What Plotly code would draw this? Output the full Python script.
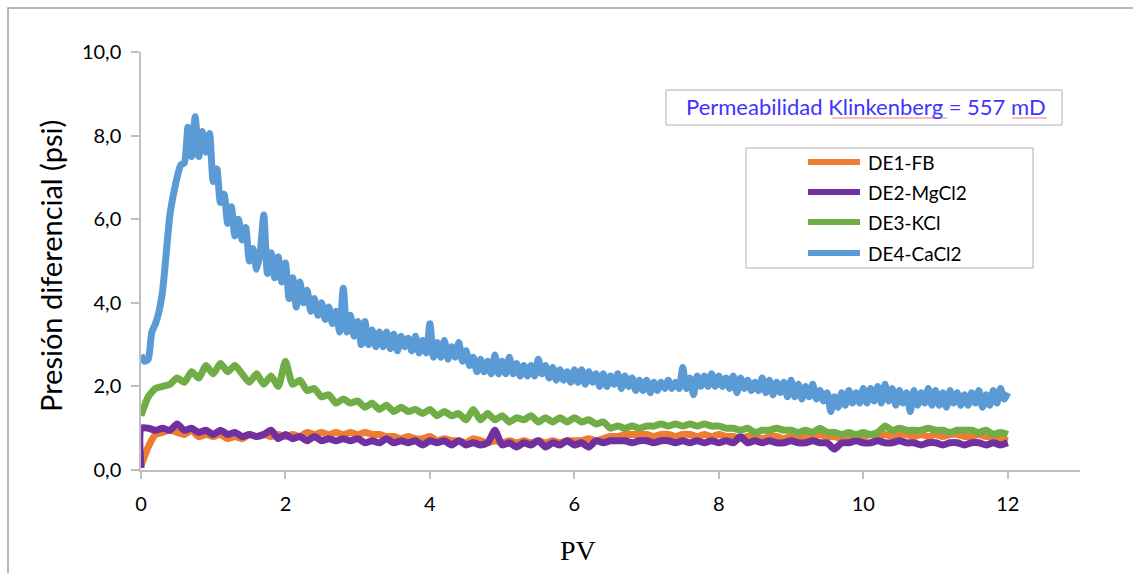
import numpy as np
import plotly.graph_objects as go

# ---------------- data ----------------
pv_fine = np.round(np.arange(0, 12.0001, 0.05), 2)   # grid for DE4
pv = np.round(np.arange(0, 12.0001, 0.1), 2)         # grid for the others

de4_cacl2 = [
    2.75, 2.6, 2.65, 3.3, 3.5, 3.8, 4.3, 5.2, 6.1, 6.6, 7.0, 7.3, 7.35, 8.2, 7.5, 8.45, 7.5, 8.1, 7.6, 8.05,
    6.9, 7.2, 6.4, 6.6, 5.9, 6.3, 5.6, 6.0, 5.5, 5.8, 5.0, 5.3, 4.8, 5.2, 6.1, 4.7, 5.2, 4.6, 5.1, 4.5,
    4.95, 4.1, 4.6, 3.9, 4.5, 4.0, 4.3, 3.8, 4.1, 3.7, 4.0, 3.6, 3.9, 3.5, 3.8, 3.3, 4.35, 3.3, 3.7, 3.2,
    3.55, 3.0, 3.55, 3.0, 3.35, 2.95, 3.3, 2.95, 3.3, 2.9, 3.25, 2.85, 3.2, 2.95, 3.15, 2.85, 3.2, 2.8, 3.1, 2.8,
    3.5, 2.7, 3.05, 2.7, 3.1, 2.65, 2.95, 2.7, 3.05, 2.6, 2.85, 2.5, 2.7, 2.35, 2.65, 2.35, 2.6, 2.3, 2.75, 2.3,
    2.6, 2.3, 2.7, 2.3, 2.55, 2.25, 2.5, 2.25, 2.5, 2.25, 2.65, 2.3, 2.5, 2.2, 2.45, 2.15, 2.4, 2.15, 2.35, 2.1,
    2.4, 2.1, 2.4, 2.05, 2.35, 2.1, 2.3, 2.0, 2.3, 2.0, 2.25, 2.05, 2.3, 1.95, 2.25, 2.0, 2.2, 1.9, 2.15, 1.9,
    2.15, 1.85, 2.1, 1.9, 2.1, 1.95, 2.15, 1.95, 2.1, 1.95, 2.45, 1.95, 2.2, 1.8, 2.25, 2.0, 2.25, 2.0, 2.3, 2.0,
    2.25, 2.0, 2.2, 1.95, 2.25, 1.85, 2.2, 1.95, 2.15, 1.9, 2.1, 1.9, 2.2, 1.85, 2.15, 1.8, 2.1, 1.85, 2.1, 1.75,
    2.15, 1.75, 2.05, 1.7, 2.0, 1.75, 2.05, 1.7, 1.9, 1.65, 1.85, 1.4, 1.75, 1.5, 1.85, 1.55, 1.9, 1.6, 1.85, 1.6,
    1.95, 1.6, 1.95, 1.65, 2.0, 1.6, 2.05, 1.65, 1.95, 1.55, 1.9, 1.6, 1.85, 1.4, 1.9, 1.55, 1.85, 1.6, 1.95, 1.55,
    1.9, 1.55, 1.85, 1.5, 1.9, 1.6, 1.85, 1.55, 1.8, 1.55, 1.85, 1.6, 1.9, 1.5, 1.8, 1.55, 1.9, 1.6, 1.95, 1.7,
    1.85,
]

de3_kcl = [
    1.3, 1.75, 1.95, 2.0, 2.05, 2.2, 2.1, 2.35, 2.2, 2.5,
    2.3, 2.55, 2.35, 2.5, 2.3, 2.1, 2.3, 2.05, 2.25, 2.0,
    2.6, 2.05, 2.15, 1.9, 1.95, 1.75, 1.8, 1.6, 1.7, 1.6,
    1.65, 1.5, 1.6, 1.45, 1.55, 1.4, 1.5, 1.4, 1.45, 1.35,
    1.45, 1.3, 1.4, 1.3, 1.35, 1.2, 1.45, 1.2, 1.35, 1.2,
    1.3, 1.15, 1.25, 1.2, 1.3, 1.15, 1.25, 1.15, 1.25, 1.15,
    1.25, 1.15, 1.2, 1.1, 1.15, 1.0, 1.05, 1.0, 1.05, 1.0,
    1.05, 1.05, 1.1, 1.05, 1.1, 1.05, 1.1, 1.05, 1.1, 1.05,
    1.05, 1.0, 1.0, 0.95, 1.0, 0.9, 0.95, 0.95, 1.0, 0.95,
    0.95, 0.9, 0.95, 0.9, 1.0, 0.9, 0.9, 0.85, 0.9, 0.85,
    0.9, 0.85, 0.9, 1.05, 0.95, 1.0, 0.95, 0.95, 0.95, 1.0,
    0.95, 0.95, 0.9, 0.95, 0.95, 0.95, 0.9, 0.95, 0.85, 0.9,
    0.85,
]

de1_fb = [
    0.1, 0.55, 0.85, 0.9, 0.95, 0.9, 0.85, 0.95, 0.8, 0.85,
    0.8, 0.85, 0.75, 0.8, 0.75, 0.85, 0.8, 0.85, 0.8, 0.85,
    0.8, 0.85, 0.8, 0.9, 0.85, 0.9, 0.85, 0.9, 0.85, 0.9,
    0.85, 0.9, 0.85, 0.85, 0.8, 0.8, 0.75, 0.8, 0.75, 0.75,
    0.8, 0.7, 0.75, 0.7, 0.7, 0.65, 0.75, 0.7, 0.65, 0.7,
    0.65, 0.7, 0.65, 0.7, 0.65, 0.7, 0.65, 0.7, 0.65, 0.7,
    0.7, 0.7, 0.75, 0.7, 0.75, 0.8, 0.8, 0.85, 0.85, 0.85,
    0.85, 0.8, 0.85, 0.85, 0.8, 0.85, 0.85, 0.8, 0.85, 0.8,
    0.85, 0.8, 0.8, 0.75, 0.8, 0.8, 0.75, 0.8, 0.8, 0.75,
    0.8, 0.75, 0.8, 0.8, 0.85, 0.8, 0.8, 0.75, 0.8, 0.85,
    0.8, 0.85, 0.8, 0.85, 0.8, 0.85, 0.85, 0.8, 0.85, 0.8,
    0.85, 0.8, 0.85, 0.85, 0.8, 0.8, 0.85, 0.8, 0.8, 0.75,
    0.7,
]

de2_start = 0.05   # value of DE2 at the very first reading (PV = 0)
de2_mgcl2 = [
    1.0, 1.0, 0.95, 1.0, 0.95, 1.1, 0.95, 1.0, 0.9, 0.95,
    0.85, 0.95, 0.85, 0.9, 0.8, 0.85, 0.8, 0.85, 0.95, 0.75,
    0.85, 0.75, 0.8, 0.7, 0.8, 0.7, 0.75, 0.7, 0.75, 0.7,
    0.75, 0.65, 0.7, 0.65, 0.75, 0.65, 0.7, 0.65, 0.7, 0.6,
    0.7, 0.65, 0.7, 0.6, 0.7, 0.6, 0.65, 0.6, 0.65, 0.95,
    0.6, 0.65, 0.55, 0.65, 0.6, 0.7, 0.55, 0.65, 0.6, 0.7,
    0.6, 0.65, 0.55, 0.7, 0.65, 0.7, 0.7, 0.7, 0.65, 0.7,
    0.7, 0.65, 0.7, 0.7, 0.65, 0.7, 0.65, 0.7, 0.65, 0.7,
    0.65, 0.7, 0.65, 0.8, 0.65, 0.7, 0.65, 0.7, 0.65, 0.65,
    0.7, 0.65, 0.65, 0.7, 0.65, 0.65, 0.5, 0.65, 0.65, 0.7,
    0.65, 0.65, 0.7, 0.65, 0.65, 0.7, 0.65, 0.65, 0.6, 0.65,
    0.65, 0.6, 0.65, 0.65, 0.6, 0.65, 0.65, 0.6, 0.65, 0.6,
    0.65,
]

series_names = ["DE1-FB", "DE2-MgCl2", "DE3-KCl", "DE4-CaCl2"]
series_colors = ["#ED7D31", "#7030A0", "#70AD47", "#5B9BD5"]
y_tick_vals = [0, 2, 4, 6, 8, 10]
y_tick_text = ["0,0", "2,0", "4,0", "6,0", "8,0", "10,0"]
x_tick_vals = [0, 2, 4, 6, 8, 10, 12]
note_text = "Permeabilidad Klinkenberg = 557 mD"

# ---------------- layout geometry (pixels) ----------------
W, H = 1133, 573
L, R, T, B = 141, 1080, 52, 470


def px(x):
    return (x - L) / (R - L)


def py(y):
    return (B - y) / (B - T)


FONT = "Lato, 'Open Sans', sans-serif"

fig = go.Figure()
xs = [pv, np.concatenate([[0.0], pv]), pv, pv_fine]
ys = [de1_fb, [de2_start] + de2_mgcl2, de3_kcl, de4_cacl2]
for name, color, xv, yv in zip(series_names, series_colors, xs, ys):
    fig.add_trace(go.Scatter(x=xv, y=yv, mode="lines", name=name,
                             line=dict(color=color, width=7, shape="spline", smoothing=0.6),
                             showlegend=False))

fig.update_layout(
    width=W, height=H,
    margin=dict(l=L, r=W - R, t=T, b=H - B),
    paper_bgcolor="white", plot_bgcolor="white",
    font=dict(family=FONT, size=20, color="black"),
    xaxis=dict(range=[0, 13], tickvals=x_tick_vals, showgrid=False, zeroline=False,
               showline=True, linecolor="#BFBFBF", linewidth=1.5,
               ticks="outside", ticklen=7, tickcolor="#BFBFBF", tickwidth=1.5,
               tickfont=dict(size=20, family=FONT), ticklabelstandoff=8),
    yaxis=dict(range=[0, 10], tickvals=y_tick_vals, ticktext=y_tick_text, showgrid=False,
               zeroline=False, showline=True, linecolor="#BFBFBF", linewidth=1.5,
               ticks="outside", ticklen=8, tickcolor="#BFBFBF", tickwidth=1.5,
               tickfont=dict(size=20, family=FONT), ticklabelstandoff=6),
)

shapes = []
# outer chart border
shapes.append(dict(type="rect", xref="paper", yref="paper",
                   x0=px(8), x1=px(W + 20), y0=py(8), y1=py(H + 20),
                   line=dict(color="#A0A0A0", width=1.5), layer="below"))
# annotation box
shapes.append(dict(type="rect", xref="paper", yref="paper",
                   x0=px(666), x1=px(1062), y0=py(90), y1=py(125),
                   line=dict(color="#B0B0B0", width=1), fillcolor="white"))
# legend box
shapes.append(dict(type="rect", xref="paper", yref="paper",
                   x0=px(746), x1=px(1033), y0=py(148), y1=py(268),
                   line=dict(color="#B0B0B0", width=1), fillcolor="white"))
# spell-check underlines
for a, b in [(832, 947), (1012, 1047)]:
    shapes.append(dict(type="line", xref="paper", yref="paper",
                       x0=px(a), x1=px(b), y0=py(118), y1=py(118),
                       line=dict(color="#F08080", width=1)))

legend_rows = [162, 192, 222, 253]
annotations = []
for name, color, yrow in zip(series_names, series_colors, legend_rows):
    shapes.append(dict(type="line", xref="paper", yref="paper",
                       x0=px(808), x1=px(860), y0=py(yrow), y1=py(yrow),
                       line=dict(color=color, width=6)))
    annotations.append(dict(text=name, xref="paper", yref="paper",
                            x=px(866), y=py(yrow), xanchor="left", yanchor="middle",
                            showarrow=False, font=dict(size=19, family=FONT, color="black")))

annotations.append(dict(text=note_text, xref="paper", yref="paper",
                        x=px(866), y=py(107), xanchor="center", yanchor="middle",
                        showarrow=False, font=dict(size=22, family=FONT, color="#3F33FF")))
annotations.append(dict(text="PV", xref="paper", yref="paper",
                        x=px(578), y=py(550), xanchor="center", yanchor="middle",
                        showarrow=False,
                        font=dict(size=28, family="'Liberation Serif', 'Times New Roman', serif",
                                  color="black")))
annotations.append(dict(text="Presión diferencial (psi)", xref="paper", yref="paper",
                        x=px(50), y=py(266), xanchor="center", yanchor="middle",
                        textangle=-90, showarrow=False,
                        font=dict(size=29, family=FONT, color="black")))

fig.update_layout(shapes=shapes, annotations=annotations)
fig.write_html("out.html")
